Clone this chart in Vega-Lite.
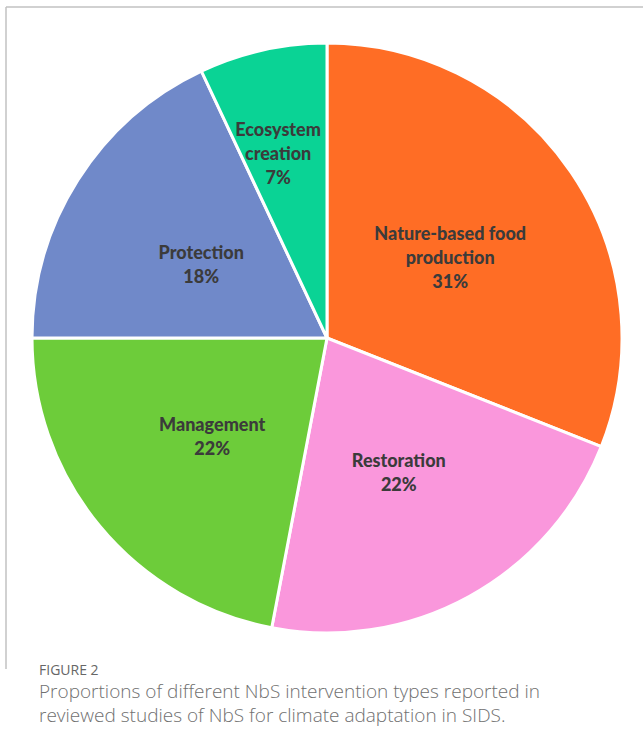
{
  "$schema": "https://vega.github.io/schema/vega-lite/v6.json",
  "width": 642,
  "height": 662,
  "padding": {"left": 6, "top": 7, "right": 0, "bottom": 0},
  "autosize": {"type": "pad"},
  "background": "white",
  "view": {"stroke": "#c2c2c2", "strokeWidth": 1.5, "strokeDash": [642, 1304, 662, 0]},
  "title": {
    "text": "FIGURE 2",
    "subtitle": ["Proportions of different NbS intervention types reported in", "reviewed studies of NbS for climate adaptation in SIDS."],
    "orient": "bottom",
    "anchor": "start",
    "frame": "group",
    "offset": -5,
    "dx": 33,
    "baseline": "top",
    "font": "Open Sans",
    "fontSize": 14,
    "fontWeight": "normal",
    "color": "#666666",
    "subtitleFont": "Open Sans",
    "subtitleFontSize": 19,
    "subtitleFontWeight": 300,
    "subtitleColor": "#707070",
    "subtitleLineHeight": 23.5,
    "subtitlePadding": 5
  },
  "data": {
    "values": [
      {"category": "Nature-based food production", "share": 31, "rank": 1, "label": "Nature-based food\nproduction\n31%"},
      {"category": "Restoration", "share": 22, "rank": 2, "label": "Restoration\n22%"},
      {"category": "Management", "share": 22, "rank": 3, "label": "Management\n22%"},
      {"category": "Protection", "share": 18, "rank": 4, "label": "Protection\n18%"},
      {"category": "Ecosystem creation", "share": 7, "rank": 5, "label": "Ecosystem\ncreation\n7%"}
    ]
  },
  "encoding": {
    "theta": {"field": "share", "type": "quantitative", "stack": true},
    "order": {"field": "rank", "type": "quantitative"}
  },
  "layer": [
    {
      "mark": {"type": "arc", "outerRadius": 295, "stroke": "white", "strokeWidth": 3},
      "encoding": {
        "color": {
          "field": "category",
          "type": "nominal",
          "scale": {
            "domain": ["Nature-based food production", "Restoration", "Management", "Protection", "Ecosystem creation"],
            "range": ["#ff6d25", "#fa97dc", "#6dcc3a", "#7089c9", "#0ad395"]
          },
          "legend": null
        }
      }
    },
    {
      "mark": {"type": "text", "font": "Lato", "fontWeight": 900, "fontSize": 18, "fill": "#3b3b3b", "lineBreak": "\n", "lineHeight": 24, "baseline": "middle", "align": "center", "dy": -19},
      "encoding": {
        "detail": {"field": "category", "type": "nominal"},
        "radius": {"value": 149},
        "text": {"condition": {"test": "datum.category === 'Nature-based food production'", "field": "label", "type": "nominal"}, "value": ""}
      }
    },
    {
      "mark": {"type": "text", "font": "Lato", "fontWeight": 900, "fontSize": 18, "fill": "#3b3b3b", "lineBreak": "\n", "lineHeight": 24, "baseline": "middle", "align": "center", "dy": -7},
      "encoding": {
        "detail": {"field": "category", "type": "nominal"},
        "radius": {"value": 149},
        "text": {"condition": {"test": "datum.category === 'Restoration' || datum.category === 'Management'", "field": "label", "type": "nominal"}, "value": ""}
      }
    },
    {
      "mark": {"type": "text", "font": "Lato", "fontWeight": 900, "fontSize": 18, "fill": "#3b3b3b", "lineBreak": "\n", "lineHeight": 24, "baseline": "middle", "align": "center", "dy": -4},
      "encoding": {
        "detail": {"field": "category", "type": "nominal"},
        "radius": {"value": 149},
        "text": {"condition": {"test": "datum.category === 'Protection'", "field": "label", "type": "nominal"}, "value": ""}
      }
    },
    {
      "mark": {"type": "text", "font": "Lato", "fontWeight": 900, "fontSize": 18, "fill": "#3b3b3b", "lineBreak": "\n", "lineHeight": 24, "baseline": "middle", "align": "center", "dx": -7, "dy": -20},
      "encoding": {
        "detail": {"field": "category", "type": "nominal"},
        "radius": {"value": 192},
        "text": {"condition": {"test": "datum.category === 'Ecosystem creation'", "field": "label", "type": "nominal"}, "value": ""}
      }
    }
  ]
}
